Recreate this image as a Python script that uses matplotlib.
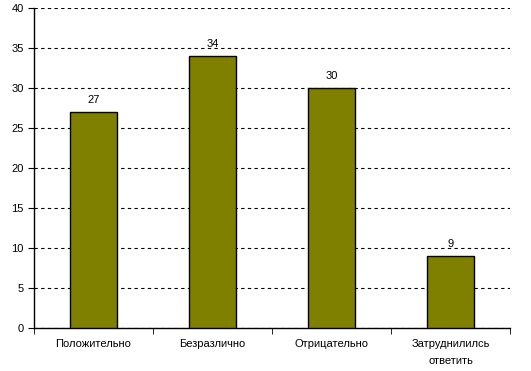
import numpy as np
import matplotlib
matplotlib.use('Agg')
import matplotlib.pyplot as plt

plt.rcParams['font.family'] = ['Liberation Sans', 'DejaVu Sans']

categories = ['Положительно', 'Безразлично', 'Отрицательно', 'Затруднилилсь\nответить']
values = [27, 34, 30, 9]

fig = plt.figure(figsize=(5.31, 3.71), dpi=100)
ax = fig.add_axes([34 / 531, 43 / 371, 476 / 531, 320 / 371])

x = np.arange(len(categories))
ax.bar(x, values, width=0.4, color='#808000', edgecolor='black', linewidth=1, zorder=3)
for xi, v in zip(x, values):
    ax.text(xi, v + 0.9, str(v), ha='center', va='bottom', fontsize=8)

ax.set_xlim(-0.5, len(categories) - 0.5)
ax.set_ylim(0, 40)
ax.set_yticks(range(0, 41, 5))
ax.yaxis.grid(True, linestyle=(0, (3, 3)), color='black', linewidth=0.8, zorder=0)

ax.set_xticks(x)
ax.set_xticklabels(categories, fontsize=8, linespacing=1.9)
ax.set_xticks(np.arange(-0.5, len(categories)), minor=True)
ax.tick_params(axis='x', which='major', length=0, pad=8)
ax.tick_params(axis='x', which='minor', length=4, direction='out', color='black')
ax.tick_params(axis='y', length=4, direction='out', labelsize=8, color='black')

for s in ['top', 'right']:
    ax.spines[s].set_visible(False)
for s in ['left', 'bottom']:
    ax.spines[s].set_color('black')
    ax.spines[s].set_linewidth(1)

fig.savefig('out.png', dpi=100)
